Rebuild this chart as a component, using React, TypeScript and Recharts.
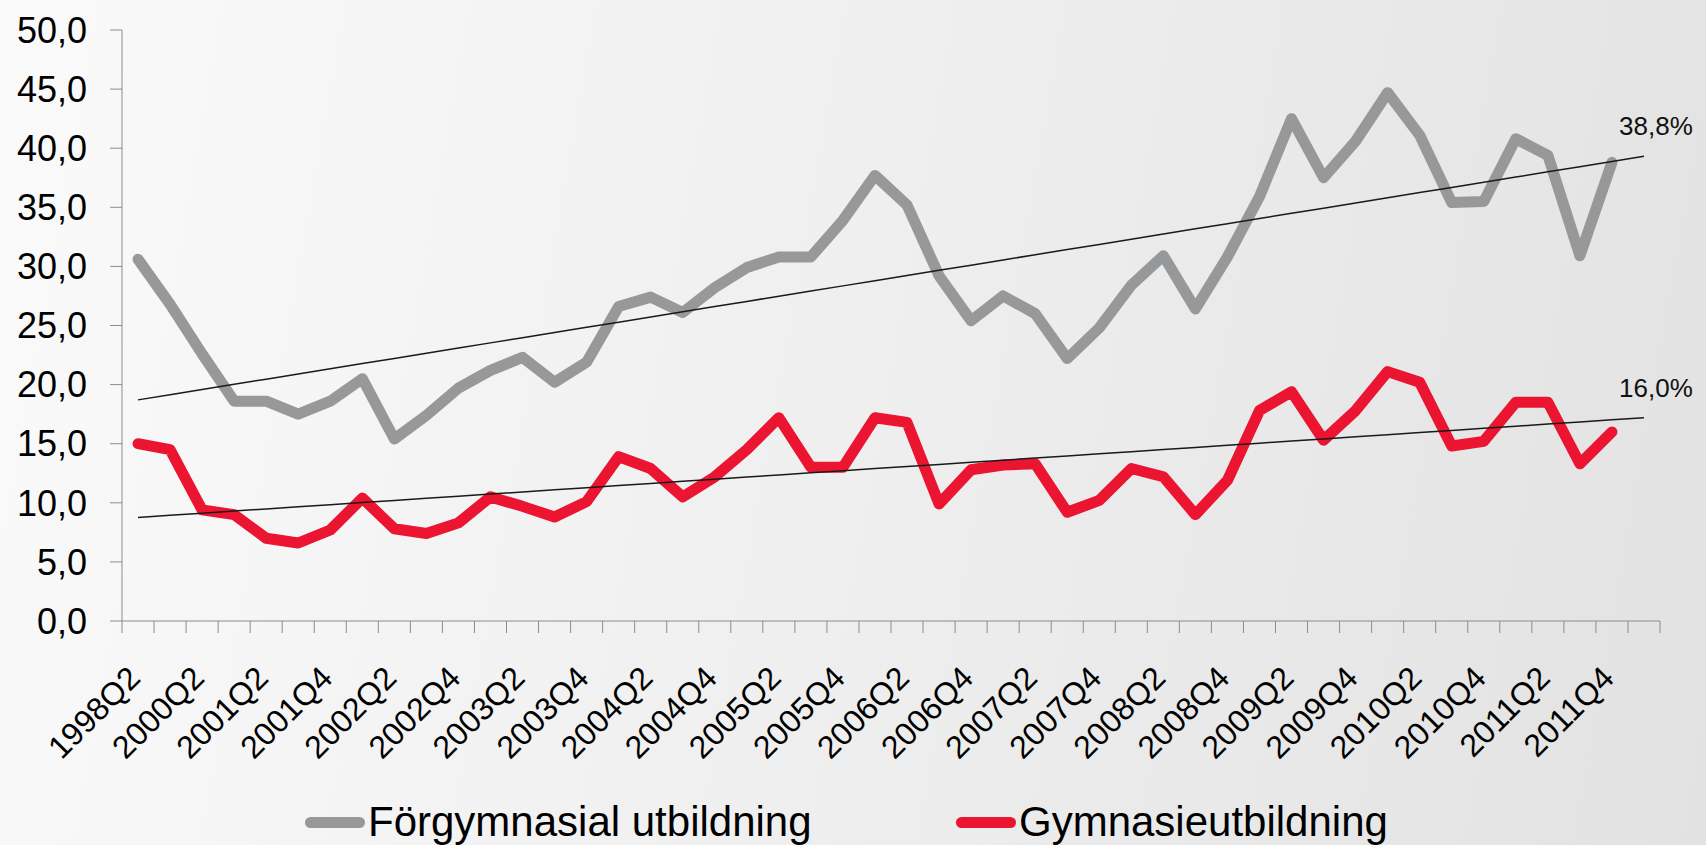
import React from "react";
import { LineChart, Line, XAxis, YAxis, Legend, LabelList } from "recharts";

// quarters on the category axis (last one is empty, trend goes one step ahead)
const quarters = [
  "1998Q2", "1999Q2", "2000Q2", "2000Q4", "2001Q2", "2001Q3", "2001Q4", "2002Q1",
  "2002Q2", "2002Q3", "2002Q4", "2003Q1", "2003Q2", "2003Q3", "2003Q4", "2004Q1",
  "2004Q2", "2004Q3", "2004Q4", "2005Q1", "2005Q2", "2005Q3", "2005Q4", "2006Q1",
  "2006Q2", "2006Q3", "2006Q4", "2007Q1", "2007Q2", "2007Q3", "2007Q4", "2008Q1",
  "2008Q2", "2008Q3", "2008Q4", "2009Q1", "2009Q2", "2009Q3", "2009Q4", "2010Q1",
  "2010Q2", "2010Q3", "2010Q4", "2011Q1", "2011Q2", "2011Q3", "2011Q4", "2012Q1",
];

const forgymnasial = [
  30.6, 26.8, 22.6, 18.6, 18.6, 17.5, 18.6, 20.5, 15.4, 17.4, 19.7, 21.2,
  22.3, 20.2, 21.9, 26.6, 27.4, 26.1, 28.2, 29.9, 30.8, 30.8, 33.9, 37.7,
  35.2, 29.2, 25.4, 27.5, 26.0, 22.2, 24.8, 28.4, 30.9, 26.4, 30.8, 35.9,
  42.5, 37.5, 40.6, 44.7, 41.1, 35.4, 35.5, 40.8, 39.4, 30.9, 38.8,
];

const gymnasie = [
  15.0, 14.5, 9.4, 9.0, 7.0, 6.6, 7.7, 10.4, 7.8, 7.4, 8.3, 10.5,
  9.7, 8.8, 10.1, 13.9, 12.9, 10.5, 12.2, 14.5, 17.2, 13.0, 13.0, 17.2,
  16.8, 9.9, 12.8, 13.2, 13.3, 9.2, 10.2, 12.9, 12.2, 9.0, 11.9, 17.8,
  19.4, 15.3, 17.8, 21.1, 20.2, 14.8, 15.2, 18.5, 18.5, 13.3, 16.0,
];

const yTicks = [0, 5, 10, 15, 20, 25, 30, 35, 40, 45, 50];

const W = 1706;
const H = 845;
const MARGIN = { top: 30, right: 46, bottom: 0, left: 0 };
const Y_W = 122;
const PLOT_W = W - MARGIN.left - MARGIN.right - Y_W;
const BAND = PLOT_W / quarters.length;
const FONT = "'Liberation Sans', Arial, sans-serif";
const GREY = "#96989a";
const RED = "#eb1431";
const AXIS = "#8c8c8c";

// linear trend (least squares) over the observed points
function trendOf(values: number[]) {
  const n = values.length;
  let sx = 0, sy = 0, sxx = 0, sxy = 0;
  values.forEach((v, i) => {
    sx += i;
    sy += v;
    sxx += i * i;
    sxy += i * v;
  });
  const b = (n * sxy - sx * sy) / (n * sxx - sx * sx);
  const a = (sy - b * sx) / n;
  return (i: number) => a + b * i;
}

const tf = trendOf(forgymnasial);
const tg = trendOf(gymnasie);

const data = quarters.map((q, i) => ({
  i,
  q,
  forg: i < forgymnasial.length ? forgymnasial[i] : null,
  gym: i < gymnasie.length ? gymnasie[i] : null,
  forgT: tf(i),
  gymT: tg(i),
}));

// category boundaries -> tick marks between categories
const boundaries = Array.from({ length: quarters.length + 1 }, (_, k) => k - 0.5);

const fmt = (v: number) => v.toFixed(1).replace(".", ",");

const XTick = (props: any) => {
  const { x, y, payload } = props;
  const k = Math.round(payload.value + 0.5);
  if (k % 2 !== 0 || k >= forgymnasial.length) return <g />;
  const tx = x + BAND / 2 + 4;
  const ty = y + 47;
  return (
    <text
      x={tx}
      y={ty}
      textAnchor="end"
      transform={`rotate(-45 ${tx} ${ty})`}
      fontSize={32}
      fontFamily={FONT}
      fill="#000"
    >
      {quarters[k]}
    </text>
  );
};

const endLabel = (last: number) => (props: any) => {
  const { x, y, index } = props;
  if (index !== quarters.length - 1) return <g />;
  return (
    <text x={x + 12} y={y - 21} textAnchor="middle" fontSize={26} fontFamily={FONT} fill="#111">
      {fmt(last)}%
    </text>
  );
};

const LegendBox = () => (
  <div style={{ position: "relative", width: W, height: 48, fontFamily: FONT, fontSize: 42, color: "#000" }}>
    {[
      { name: "Förgymnasial utbildning", color: GREY, left: 305 },
      { name: "Gymnasieutbildning", color: RED, left: 956 },
    ].map((it) => (
      <div
        key={it.name}
        style={{ position: "absolute", left: it.left, top: 0, height: 48, display: "flex", alignItems: "center", whiteSpace: "nowrap" }}
      >
        <span style={{ display: "inline-block", width: 60, height: 11, borderRadius: 6, background: it.color, marginRight: 3 }} />
        <span>{it.name}</span>
      </div>
    ))}
  </div>
);

export default function App() {
  return (
    <div
      style={{
        position: "absolute",
        left: 0,
        top: 0,
        width: W,
        height: H,
        background: "linear-gradient(100deg, #fafafa 0%, #f0f0f0 45%, #e2e2e2 100%)",
      }}
    >
      <LineChart width={W} height={H} data={data} margin={MARGIN}>
        <XAxis
          dataKey="i"
          type="number"
          domain={[-0.5, quarters.length - 0.5]}
          ticks={boundaries}
          interval={0}
          height={176}
          tickSize={12}
          tickMargin={0}
          stroke={AXIS}
          tickLine={{ stroke: AXIS }}
          tick={<XTick />}
        />
        <YAxis
          width={Y_W}
          domain={[0, 50]}
          ticks={yTicks}
          interval={0}
          tickSize={12}
          tickMargin={23}
          stroke={AXIS}
          tickLine={{ stroke: AXIS }}
          tickFormatter={fmt}
          tick={{ fontSize: 36, fill: "#000", fontFamily: FONT }}
        />
        <Legend
          verticalAlign="bottom"
          wrapperStyle={{ left: 0, top: 798, width: W, height: 48 }}
          content={() => <LegendBox />}
        />
        <Line
          dataKey="forg"
          stroke={GREY}
          strokeWidth={11}
          strokeLinecap="round"
          strokeLinejoin="round"
          dot={false}
          isAnimationActive={false}
        />
        <Line
          dataKey="gym"
          stroke={RED}
          strokeWidth={11}
          strokeLinecap="round"
          strokeLinejoin="round"
          dot={false}
          isAnimationActive={false}
        />
        <Line dataKey="forgT" stroke="#1a1a1a" strokeWidth={1.5} dot={false} isAnimationActive={false}>
          <LabelList dataKey="forgT" content={endLabel(forgymnasial[forgymnasial.length - 1])} />
        </Line>
        <Line dataKey="gymT" stroke="#1a1a1a" strokeWidth={1.5} dot={false} isAnimationActive={false}>
          <LabelList dataKey="gymT" content={endLabel(gymnasie[gymnasie.length - 1])} />
        </Line>
      </LineChart>
    </div>
  );
}
